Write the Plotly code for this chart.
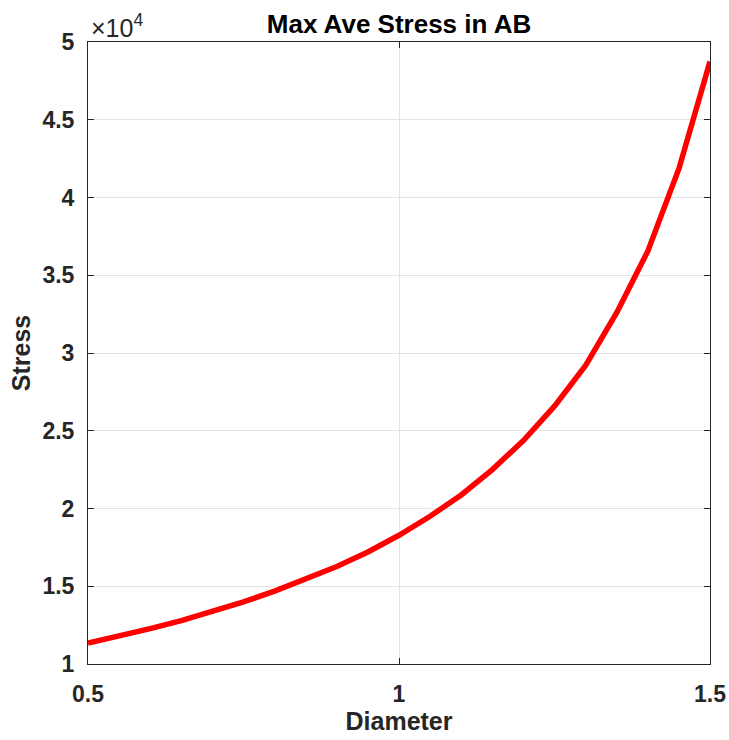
import plotly.graph_objects as go

# Diameter values and the corresponding maximum average stress in member AB
diameter = [0.50, 0.55, 0.60, 0.65, 0.70, 0.75, 0.80, 0.85, 0.90, 0.95, 1.00,
            1.05, 1.10, 1.15, 1.20, 1.25, 1.30, 1.35, 1.40, 1.45, 1.50]
stress = [11350, 11790, 12270, 12790, 13360, 13990, 14690, 15440, 16270, 17200, 18280,
          19500, 20870, 22500, 24370, 26580, 29200, 32590, 36550, 41850, 48740]

y_tick_vals = [10000, 15000, 20000, 25000, 30000, 35000, 40000, 45000, 50000]
y_tick_text = ["1", "1.5", "2", "2.5", "3", "3.5", "4", "4.5", "5"]
x_tick_vals = [0.5, 1.0, 1.5]
x_tick_text = ["0.5", "1", "1.5"]

FONT = "Liberation Sans, Arial, Helvetica, sans-serif"
AXIS_COLOR = "#262626"
GRID_COLOR = "#e3e3e3"

fig = go.Figure()
fig.add_trace(go.Scatter(
    x=diameter, y=stress, mode="lines",
    line=dict(color="#ff0000", width=5.5),
    showlegend=False,
))

axis_common = dict(
    showline=True, linecolor=AXIS_COLOR, linewidth=1, mirror="allticks",
    ticks="inside", ticklen=6, tickcolor=AXIS_COLOR, tickwidth=1,
    showgrid=True, gridcolor=GRID_COLOR, gridwidth=1, zeroline=False,
    automargin=False,
    tickfont=dict(family=FONT, size=23, color=AXIS_COLOR, weight="bold"),
)

fig.update_xaxes(
    range=[0.5, 1.5], tickvals=x_tick_vals, ticktext=x_tick_text,
    ticklabelstandoff=9,
    title=dict(text="Diameter", font=dict(family=FONT, size=25, color=AXIS_COLOR, weight="bold"),
               standoff=6),
    **axis_common,
)
fig.update_yaxes(
    range=[10000, 50000], tickvals=y_tick_vals, ticktext=y_tick_text,
    ticklabelstandoff=8,
    title=dict(text="Stress", font=dict(family=FONT, size=25, color=AXIS_COLOR, weight="bold"),
               standoff=4),
    **axis_common,
)

fig.update_layout(
    width=729, height=740,
    margin=dict(l=88, r=19, t=42, b=76),
    paper_bgcolor="white", plot_bgcolor="white",
    title=dict(text="<b>Max Ave Stress in AB</b>", x=0.5, xanchor="center",
               xref="paper", y=1 - 24 / 740, yanchor="middle",
               font=dict(family=FONT, size=26, color="black")),
    annotations=[dict(
        text="×10<sup>4</sup>", xref="paper", yref="paper", x=0, y=1,
        xanchor="left", yanchor="bottom", showarrow=False, yshift=-2, xshift=1,
        font=dict(family=FONT, size=25, color=AXIS_COLOR),
    )],
)

fig.write_html("out.html")
